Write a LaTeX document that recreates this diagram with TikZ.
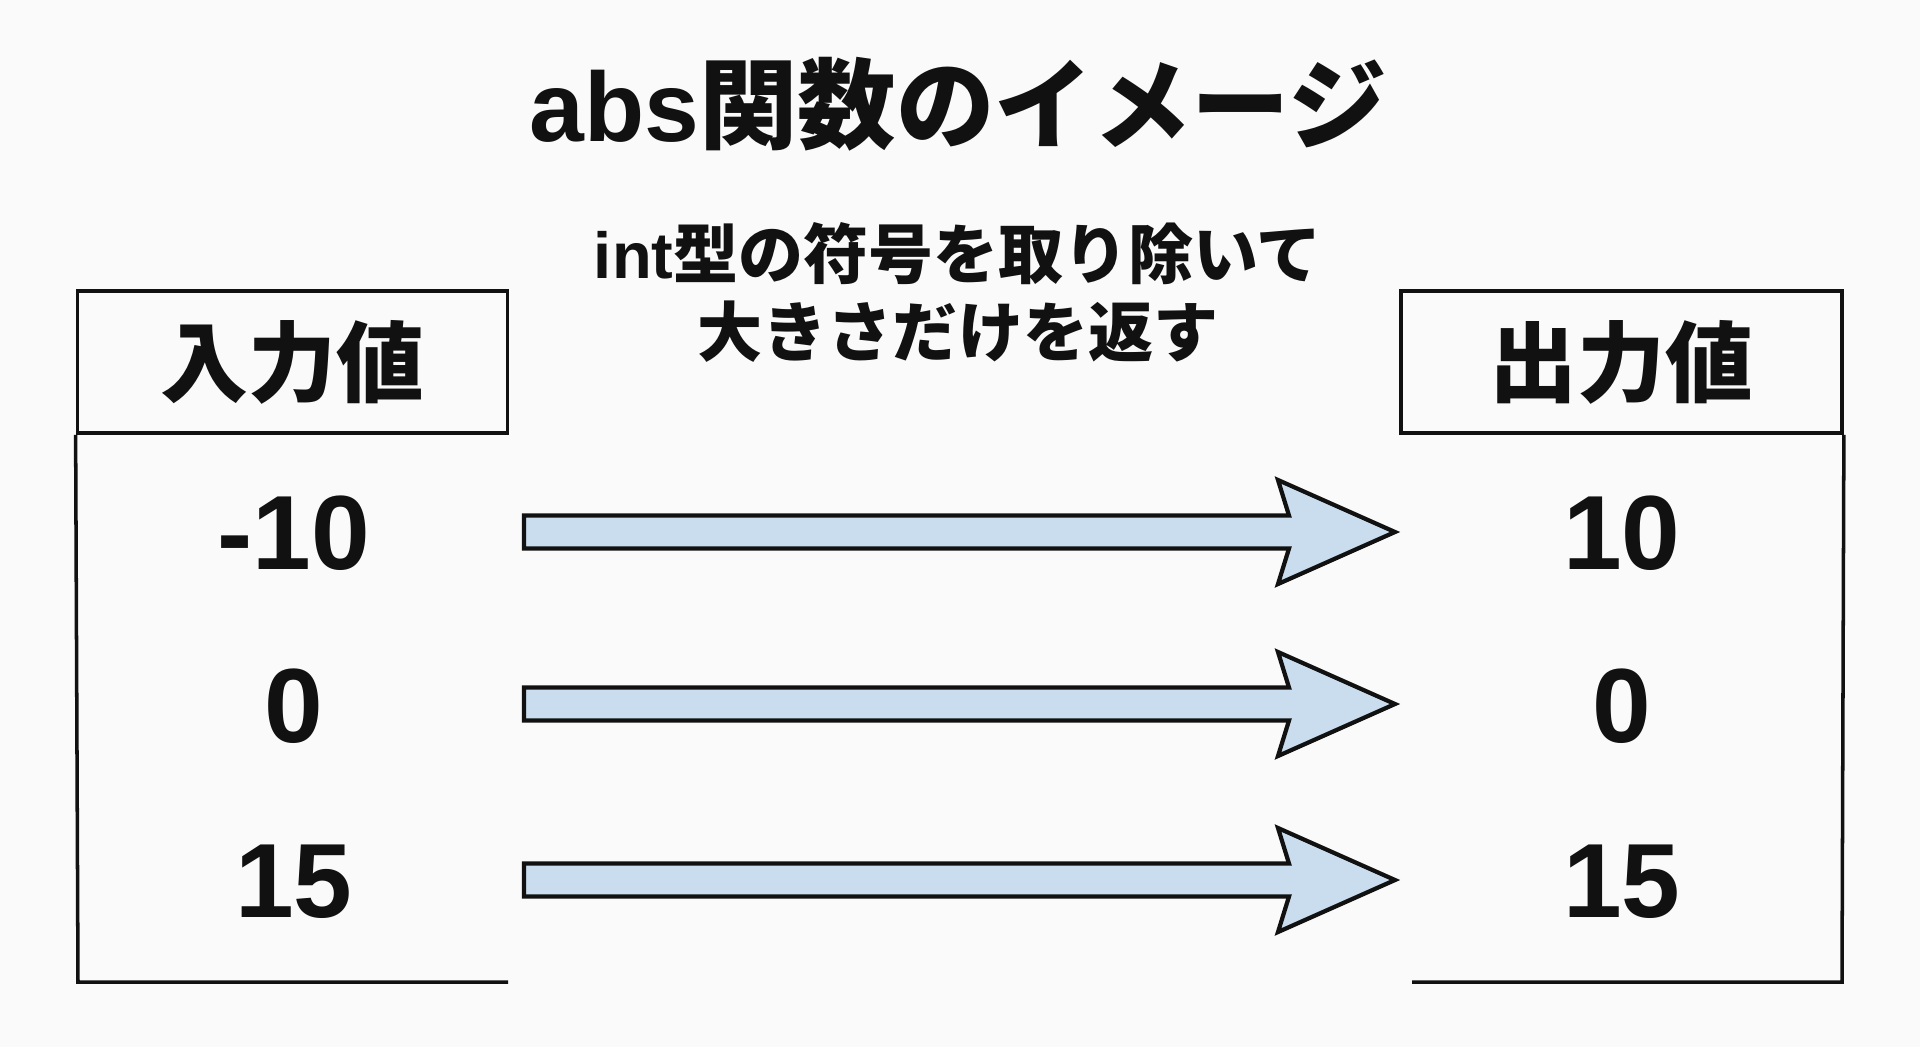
\documentclass[tikz,border=0pt]{standalone}
\usepackage{fontspec}
\setmainfont{Liberation Sans}
\newfontfamily\jp{Noto Sans CJK JP}
\definecolor{bgc}{RGB}{250,250,250}
\definecolor{arrowfill}{RGB}{201,221,238}
\definecolor{ink}{RGB}{17,17,17}
\tikzset{
  hdr/.style={draw=ink, line width=1pt, inner sep=0pt, font=\fontsize{25}{30}\selectfont\bfseries\jp, text=ink},
  colline/.style={draw=ink, line width=1pt},
  val/.style={inner sep=0pt, font=\fontsize{30}{36}\selectfont\bfseries, text=ink},
  barrow/.style={draw=ink, line width=1.2pt, fill=arrowfill, line join=miter},
}
\begin{document}
\begin{tikzpicture}[x=0.01cm,y=-0.01cm]
\path[use as bounding box, fill=bgc] (0,0) rectangle (1920,1047);
% title
\node[text=ink, font=\fontsize{28}{34}\selectfont\bfseries] (title) at (958,104) {abs{\jp 関数のイメージ}};
\node[text=ink, align=center, font=\fontsize{18.5}{22.2}\selectfont\bfseries] (sub) at (958,292) {int{\jp 型の符号を取り除いて}\\{\jp 大きさだけを返す}};
% left column
\node[hdr, minimum width=4.30cm, minimum height=1.42cm] (inh) at (292.5,362) {入力値};
\coordinate (lbl) at (78,982);
\coordinate (lbr) at (508,982);
\draw[colline] (inh.south west) -- (lbl) -- (lbr);
% right column
\node[hdr, minimum width=4.41cm, minimum height=1.42cm] (outh) at (1621.5,362) {出力値};
\coordinate (rbr) at (1842,982);
\coordinate (rbl) at (1412,982);
\draw[colline] (outh.south east) -- (rbr) -- (rbl);
% values
\node[val] (l1) at (294,533) {-10};
\node[val] (l2) at (294,706) {0};
\node[val] (l3) at (294,882) {15};
\node[val] (r1) at (1622,533) {10};
\node[val] (r2) at (1622,706) {0};
\node[val] (r3) at (1622,882) {15};
% arrows
\coordinate (a1) at (524,532);
\coordinate (a2) at (524,704);
\coordinate (a3) at (524,880);
\foreach \a in {a1,a2,a3}{
  \draw[barrow] (\a) ++(0,-16.5) -- ++(765,0) -- ++(-11,-35.5) -- ++(117,52) -- ++(-117,52) -- ++(11,-35.5) -- ++(-765,0) -- cycle;
}
\end{tikzpicture}
\end{document}
